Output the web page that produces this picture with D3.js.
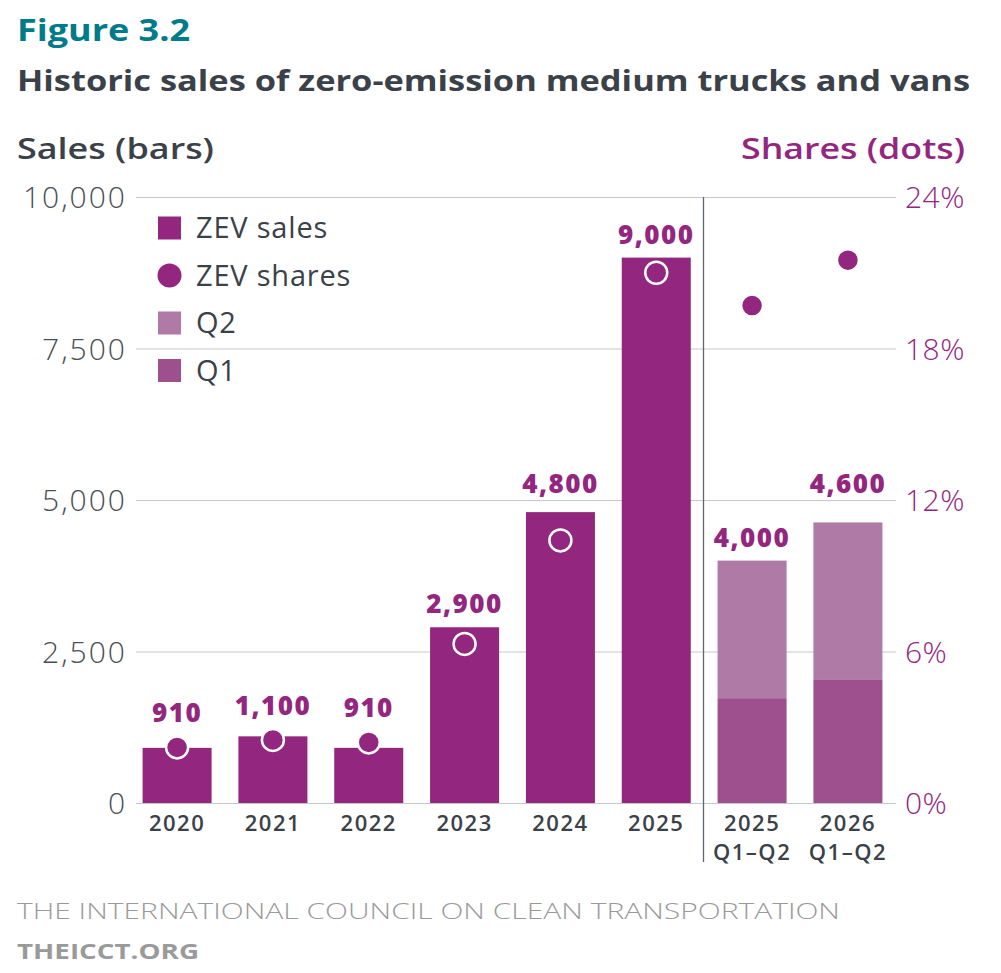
<!DOCTYPE html>
<html>
<head>
<meta charset="utf-8">
<script src="https://cdn.jsdelivr.net/npm/d3@7"></script>
<style>
  body { margin: 0; background: #fff; }
  text { font-family: "Open Sans", "Lato", sans-serif; }
</style>
</head>
<body>
<div id="chart"></div>
<script>
// categories and values
var categories = ["2020", "2021", "2022", "2023", "2024", "2025", "2025 Q1–Q2", "2026 Q1–Q2"];
var sales = [910, 1100, 910, 2900, 4800, 9000, null, null];
var q1Sales = [null, null, null, null, null, null, 1730, 2030];
var q2Sales = [null, null, null, null, null, null, 2270, 2600];
var shares = [2.2, 2.5, 2.4, 6.3, 10.4, 21.0, 19.7, 21.5];
var salesTicks = [0, 2500, 5000, 7500, 10000];
var shareTicks = [0, 6, 12, 18, 24];

var purple = "#93267f", q1Color = "#9e4f8e", q2Color = "#b07aa6";

var svg = d3.select("#chart").append("svg")
  .attr("width", 1001)
  .attr("height", 973);

// headings
svg.append("text").attr("x", 17).attr("y", 41)
  .attr("fill", "#007b8a").attr("font-size", 30).attr("font-weight", 700)
  .attr("textLength", 173).attr("lengthAdjust", "spacingAndGlyphs")
  .text("Figure 3.2");
svg.append("text").attr("x", 17).attr("y", 91)
  .attr("fill", "#3b4149").attr("font-size", 28).attr("font-weight", 700)
  .attr("textLength", 953).attr("lengthAdjust", "spacingAndGlyphs")
  .text("Historic sales of zero-emission medium trucks and vans");
svg.append("text").attr("x", 17).attr("y", 159)
  .attr("fill", "#3b4149").attr("font-size", 28).attr("font-weight", 600)
  .attr("textLength", 197).attr("lengthAdjust", "spacingAndGlyphs")
  .text("Sales (bars)");
svg.append("text").attr("x", 741).attr("y", 159)
  .attr("fill", purple).attr("font-size", 28).attr("font-weight", 600)
  .attr("textLength", 224).attr("lengthAdjust", "spacingAndGlyphs")
  .text("Shares (dots)");

var x = d3.scaleBand().domain(categories).range([133, 892])
  .paddingInner(0.28).paddingOuter(0.1);
var y = d3.scaleLinear().domain([0, 10000]).range([803, 197]);
var y2 = d3.scaleLinear().domain([0, 24]).range([803, 197]);

// gridlines + left axis
var gl = svg.append("g").attr("transform", "translate(136,0)")
  .call(d3.axisLeft(y).tickValues(salesTicks).tickFormat(d3.format(",")).tickSize(-760).tickPadding(9));
gl.select(".domain").remove();
gl.selectAll(".tick line").attr("stroke", "#c8c8c8").attr("stroke-width", 1.2);
gl.selectAll(".tick text").attr("fill", "#4a4f55").attr("font-size", 30).attr("font-weight", 300)
  .attr("letter-spacing", 2).attr("dy", "0.35em");

// right axis
var gr = svg.append("g").attr("transform", "translate(896,0)")
  .call(d3.axisRight(y2).tickValues(shareTicks).tickFormat(function(d){ return d + "%"; }).tickSize(0).tickPadding(9));
gr.select(".domain").remove();
gr.selectAll(".tick text").attr("fill", purple).attr("font-size", 30).attr("font-weight", 300)
  .attr("letter-spacing", 0.5).attr("dy", "0.35em");

// divider between full years and half years
svg.append("line")
  .attr("x1", 703.5).attr("x2", 703.5).attr("y1", 197).attr("y2", 862)
  .attr("stroke", "#5f6770").attr("stroke-width", 1.3);

var idx = d3.range(categories.length);

// full-year bars
svg.selectAll(".bar").data(idx.filter(function(i){ return sales[i] != null; }))
  .enter().append("rect")
  .attr("x", function(i){ return x(categories[i]); })
  .attr("width", x.bandwidth())
  .attr("y", function(i){ return y(sales[i]); })
  .attr("height", function(i){ return y(0) - y(sales[i]); })
  .attr("fill", purple);

// stacked half-year bars
var half = idx.filter(function(i){ return q1Sales[i] != null; });
svg.selectAll(".q1").data(half).enter().append("rect")
  .attr("x", function(i){ return x(categories[i]); })
  .attr("width", x.bandwidth())
  .attr("y", function(i){ return y(q1Sales[i]); })
  .attr("height", function(i){ return y(0) - y(q1Sales[i]); })
  .attr("fill", q1Color);
svg.selectAll(".q2").data(half).enter().append("rect")
  .attr("x", function(i){ return x(categories[i]); })
  .attr("width", x.bandwidth())
  .attr("y", function(i){ return y(q1Sales[i] + q2Sales[i]); })
  .attr("height", function(i){ return y(q1Sales[i]) - y(q1Sales[i] + q2Sales[i]); })
  .attr("fill", q2Color);

function total(i){ return sales[i] != null ? sales[i] : q1Sales[i] + q2Sales[i]; }
var fmt = d3.format(",.2r");
var r = 11;

// value labels sit above whichever is higher, bar or dot, and clear of gridlines
function labelY(i){
  var top = y(total(i));
  var dotTop = y2(shares[i]) - r;
  if (dotTop < top && dotTop > top - 40) top = dotTop;
  var base = top - 14;
  salesTicks.forEach(function(t){
    var gy = y(t);
    if (gy > base - 20 && gy < base + 3) base = gy - 7;
  });
  return base;
}
svg.selectAll(".val").data(idx).enter().append("text")
  .attr("x", function(i){ return x(categories[i]) + x.bandwidth() / 2; })
  .attr("y", labelY)
  .attr("text-anchor", "middle")
  .attr("fill", purple).attr("font-size", 26).attr("font-weight", 800)
  .attr("letter-spacing", 1.5)
  .text(function(i){ return fmt(total(i)); });

// share dots
svg.selectAll(".dot").data(idx).enter().append("circle")
  .attr("cx", function(i){ return x(categories[i]) + x.bandwidth() / 2; })
  .attr("cy", function(i){ return y2(shares[i]); })
  .attr("r", r)
  .attr("fill", purple)
  .attr("stroke", "#fff").attr("stroke-width", 2.5);

// category labels, one text per line
idx.forEach(function(i){
  var parts = categories[i].split(" ");
  parts.forEach(function(p, k){
    svg.append("text")
      .attr("x", x(categories[i]) + x.bandwidth() / 2)
      .attr("y", 831 + k * 29)
      .attr("text-anchor", "middle")
      .attr("fill", "#3b4149").attr("font-size", 22).attr("font-weight", 600)
      .attr("letter-spacing", 1.5)
      .text(p);
  });
});

// legend
var legend = [
  {label: "ZEV sales", color: purple, shape: "square"},
  {label: "ZEV shares", color: purple, shape: "circle"},
  {label: "Q2", color: q2Color, shape: "square"},
  {label: "Q1", color: q1Color, shape: "square"}
];
var lg = svg.selectAll(".leg").data(legend).enter().append("g")
  .attr("transform", function(d, k){ return "translate(158," + (228 + k * 47.5) + ")"; });
lg.each(function(d){
  var g = d3.select(this);
  if (d.shape === "square") {
    g.append("rect").attr("x", 0).attr("y", -11.5).attr("width", 23).attr("height", 23).attr("fill", d.color);
  } else {
    g.append("circle").attr("cx", 11.5).attr("cy", 0).attr("r", 12).attr("fill", d.color);
  }
});
lg.append("text").attr("x", 38).attr("dy", "0.35em")
  .attr("fill", "#3b4149").attr("font-size", 29).attr("font-weight", 400)
  .attr("letter-spacing", 0.8)
  .text(function(d){ return d.label; });

// footer
svg.append("text").attr("x", 17).attr("y", 919)
  .attr("fill", "#9a9a9a").attr("font-size", 22).attr("font-weight", 300)
  .attr("textLength", 823).attr("lengthAdjust", "spacingAndGlyphs")
  .text("THE INTERNATIONAL COUNCIL ON CLEAN TRANSPORTATION");
svg.append("text").attr("x", 17).attr("y", 959)
  .attr("fill", "#9a9a9a").attr("font-size", 22).attr("font-weight", 700)
  .attr("textLength", 182).attr("lengthAdjust", "spacingAndGlyphs")
  .text("THEICCT.ORG");
</script>
</body>
</html>
